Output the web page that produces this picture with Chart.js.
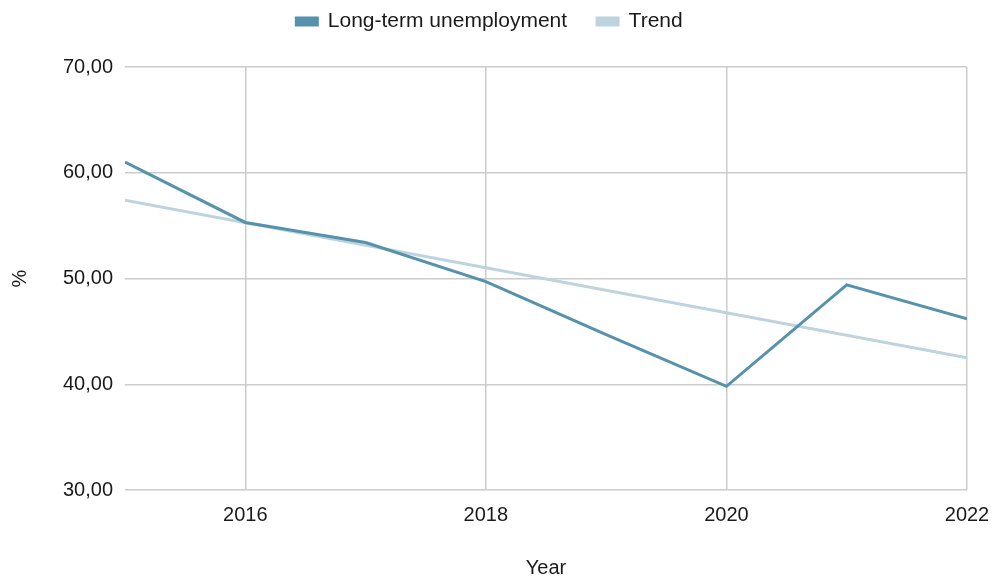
<!DOCTYPE html>
<html>
<head>
<meta charset="utf-8">
<script src="https://cdn.jsdelivr.net/npm/chart.js@4.4.1/dist/chart.umd.min.js"></script>
<style>
  html, body { margin: 0; padding: 0; background: #fff; }
  #wrap { width: 1000px; height: 579px; }
</style>
</head>
<body>
<div id="wrap"><canvas id="chart" width="1000" height="579"></canvas></div>
<script>
/* ---------------- Data ---------------- */
const years = [2015, 2016, 2017, 2018, 2019, 2020, 2021, 2022];
const unemployment = [61.0, 55.3, 53.4, 49.7, 44.7, 39.8, 49.4, 46.2];
// trend line at both ends
const trendYears = [2015, 2022];
const trendValues = [57.4, 42.5];
const xTicks = [2016, 2018, 2020, 2022];
const yTicks = [30, 40, 50, 60, 70];

const font = 'Arial, "Liberation Sans", sans-serif';
const textColor = '#1a1a1a';
const gridColor = '#cccccc';

// Fix the legend height so the plot starts where the reference does,
// then nudge the legend row up and a little to the right
const legendHeight = {
  id: 'legendHeight',
  afterInit(chart) {
    const lg = chart.legend;
    const origFit = lg.fit;
    lg.fit = function() {
      origFit.call(this);
      this.height = 67;
    };
  },
  afterLayout(chart) {
    chart.legend.top = -19;
    chart.legend.left += 6;
    chart.legend.right += 6;
  }
};

const ctx = document.getElementById('chart').getContext('2d');
new Chart(ctx, {
  type: 'line',
  data: {
    datasets: [{
      label: 'Long-term unemployment',
      data: years.map((y, i) => ({ x: y, y: unemployment[i] })),
      borderColor: '#5592ac',
      backgroundColor: '#5592ac',
      borderWidth: 3,
      pointRadius: 0,
      tension: 0,
      order: 1
    }, {
      label: 'Trend',
      data: trendYears.map((y, i) => ({ x: y, y: trendValues[i] })),
      borderColor: '#bdd4df',
      backgroundColor: '#bdd4df',
      borderWidth: 3,
      pointRadius: 0,
      tension: 0,
      order: 2
    }]
  },
  options: {
    responsive: false,
    animation: false,
    layout: { padding: { left: 0, right: 33, top: 0, bottom: 0 } },
    plugins: {
      tooltip: { enabled: false },
      legend: {
        position: 'top',
        labels: {
          boxWidth: 21,
          boxHeight: 7,
          padding: 30,
          color: textColor,
          font: { family: font, size: 21 }
        }
      }
    },
    scales: {
      x: {
        type: 'linear',
        min: 2015,
        max: 2022,
        afterBuildTicks(scale) {
          scale.ticks = xTicks.map(v => ({ value: v }));
        },
        afterFit(scale) {
          scale.height = 89;
          scale.paddingLeft = 0;
          scale.paddingRight = 0;
        },
        border: { display: false },
        grid: { color: gridColor, lineWidth: 1.5, drawTicks: false },
        ticks: {
          padding: 13,
          color: textColor,
          font: { family: font, size: 20 },
          callback: v => String(v),
          maxRotation: 0
        },
        title: {
          display: true,
          text: 'Year',
          color: textColor,
          font: { family: font, size: 20 },
          padding: { top: 0, bottom: -1 }
        }
      },
      y: {
        min: 30,
        max: 70,
        afterBuildTicks(scale) {
          scale.ticks = yTicks.map(v => ({ value: v }));
        },
        afterFit(scale) { scale.width = 125; },
        border: { display: false },
        grid: { color: gridColor, lineWidth: 1.5, drawTicks: false },
        ticks: {
          padding: 12,
          color: textColor,
          font: { family: font, size: 20 },
          callback: v => v.toFixed(2).replace('.', ',')
        },
        title: {
          display: true,
          text: '%',
          color: textColor,
          font: { family: font, size: 20 },
          padding: { top: 8, bottom: 0 }
        }
      }
    }
  },
  plugins: [legendHeight]
});
</script>
</body>
</html>
